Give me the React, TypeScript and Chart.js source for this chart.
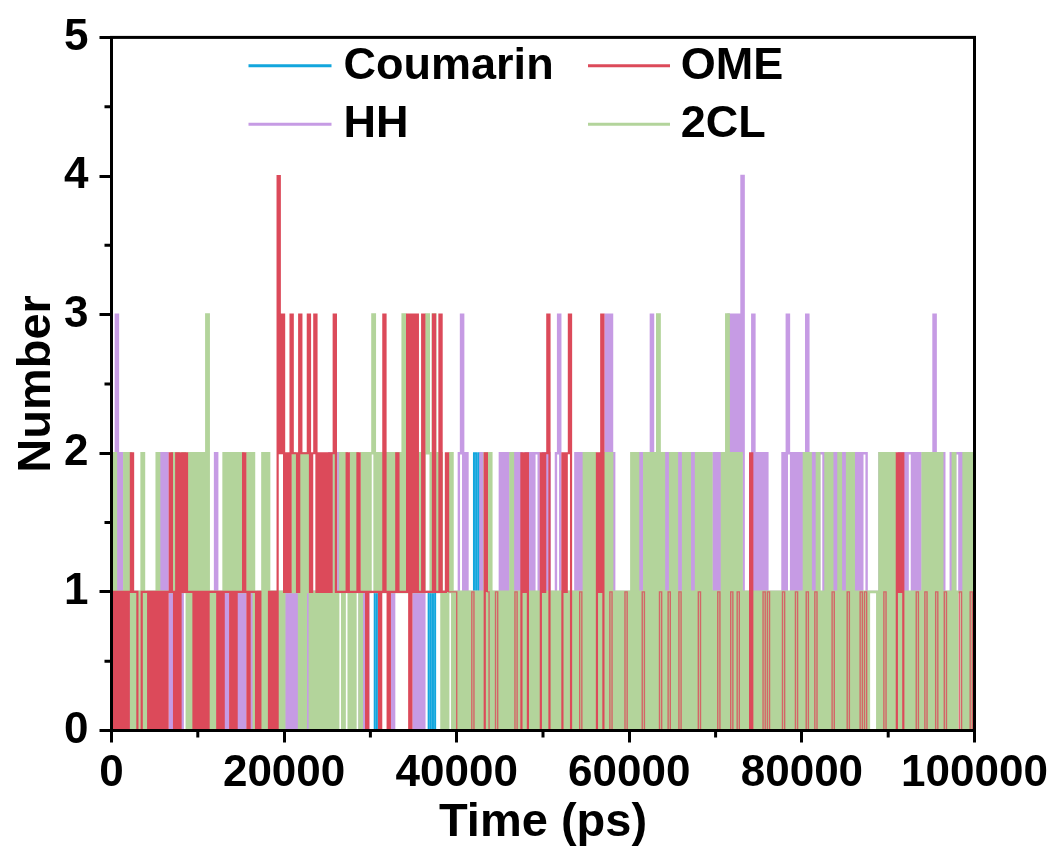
import React, { useEffect, useRef } from "react";
import { Chart, registerables } from "chart.js";

Chart.register(...registerables);

// sampling step of the trajectory (ps)
const timeStep = 250;

const seriesNames = ["Coumarin", "OME", "HH", "2CL"];
const seriesColors = ["#12a6dd", "#dc4a5a", "#c69be4", "#b3d49b"];
const seriesWidths = [2, 2.2, 2.4, 2.7];
// after this time the OME traces between 0 and 1 are thin flickers
const omeThinAfter = 38500;

const xTickValues = [0, 20000, 40000, 60000, 80000, 100000];
const yTickValues = [0, 1, 2, 3, 4, 5];

// Coumarin (blue)
const coumarin = [
  0,0,0,0,0,0,0,0,0,0, 0,0,0,0,0,0,0,0,0,0,
  0,0,0,0,0,0,0,0,0,0, 0,0,0,0,0,0,0,0,0,0,
  0,0,0,0,0,0,0,0,0,0, 0,0,0,0,0,0,0,0,0,0,
  0,0,0,0,0,0,0,0,0,0, 0,0,0,0,0,0,0,0,0,0,
  0,0,0,0,0,0,0,0,0,0, 0,0,0,0,0,0,0,1,0,0,
  0,0,0,0,0,0,0,0,0,0, 0,0,0,0,0,0,0,0,0,0,
  0,0,1,0,0,0,0,0,0,0, 0,0,0,0,0,0,0,0,0,0,
  0,0,1,0,0,0,0,1,0,1, 0,0,0,0,0,0,0,0,0,0,
  0,0,0,0,0,0,0,0,2,1, 2,0,0,0,0,0,0,0,0,0,
  0,0,0,0,0,0,0,0,0,0, 0,0,0,0,0,0,0,0,0,0,
  1,0,0,0,0,0,0,0,0,0, 0,0,0,0,0,0,0,0,0,0,
  0,0,0,0,0,0,0,0,0,0, 0,0,0,0,0,0,0,0,0,0,
  0,0,0,0,0,0,0,0,0,0, 0,0,0,0,0,0,0,0,0,0,
  0,0,0,0,0,0,0,0,0,0, 0,0,0,0,0,0,0,0,0,0,
  0,0,0,0,0,0,0,0,0,0, 0,0,0,0,0,0,0,0,0,0,
  0,0,0,0,0,0,0,0,0,0, 0,0,0,0,0,0,0,0,0,0,
  0,0,0,0,0,0,0,0,0,0, 0,0,0,0,0,0,0,0,0,0,
  0,0,0,0,0,0,0,0,0,0, 0,0,0,0,0,0,0,0,0,0,
  0,0,0,0,0,0,0,0,0,0, 0,0,0,0,0,0,0,0,0,0,
  2,0,0,0,0,0,0,0,0,0, 0,0,0,0,0,0,0,0,0,0,
  0,
];

// OME (red)
const ome = [
  1,0,1,0,1,0,1,0,1,2, 1,1,0,0,1,1,1,0,1,0,
  1,0,1,0,1,0,1,2,1,0, 2,0,2,1,2,1,1,1,0,1,
  0,1,0,1,0,1,1,1,1,0, 1,0,1,1,1,0,1,0,1,1,
  1,2,1,0,1,1,1,0,1,0, 0,0,0,1,0,1,0,4,2,3,
  1,2,1,3,2,2,1,3,2,2, 2,3,1,2,3,1,2,1,2,1,
  2,1,2,3,1,1,1,1,1,2, 1,1,1,1,2,1,1,1,0,1,
  1,1,1,1,0,1,3,1,0,1, 1,1,2,1,1,1,1,3,0,3,
  1,3,1,1,3,1,1,1,1,3, 1,1,3,1,1,2,1,1,1,1,
  0,0,0,0,0,0,0,1,0,0, 0,0,0,2,1,0,0,0,1,0,
  0,0,0,0,0,0,0,1,0,0, 2,1,2,0,0,0,0,0,0,2,
  1,2,3,0,0,0,0,0,0,2, 1,2,3,0,0,0,0,1,0,0,
  0,0,0,0,0,2,1,3,0,0, 0,1,0,0,0,0,0,0,1,0,
  0,0,0,0,0,0,1,0,0,0, 0,0,0,0,1,0,0,0,1,0,
  0,0,0,1,0,0,0,0,0,0, 0,0,1,0,0,0,0,0,0,0,
  0,1,0,0,0,0,0,1,0,0, 1,0,0,0,0,0,2,0,0,0,
  0,0,1,0,1,0,0,0,0,0, 0,1,0,0,0,0,0,1,0,0,
  0,0,1,0,0,0,1,0,0,0, 0,0,0,0,1,0,0,0,0,0,
  0,1,0,0,0,0,0,1,0,1, 0,0,0,0,0,0,0,0,1,0,
  0,0,0,0,2,1,2,0,0,0, 0,0,0,1,0,0,0,1,0,0,
  0,0,1,0,0,0,1,0,0,0, 0,0,0,1,0,0,0,0,1,0,
  0,
];

// HH (purple)
const hh = [
  1,2,3,1,2,1,1,0,1,0, 0,1,1,0,1,0,0,1,0,1,
  0,1,0,2,1,2,1,0,1,0, 0,1,0,1,1,0,1,0,1,0,
  0,1,0,0,1,0,1,1,2,1, 0,1,0,1,0,0,1,0,1,0,
  1,0,1,1,0,1,0,0,1,0, 1,0,1,1,0,1,0,0,1,0,
  0,1,0,1,0,1,0,1,0,1, 0,1,1,0,1,0,1,1,0,1,
  1,2,1,2,1,2,1,1,2,1, 1,1,2,1,1,0,1,0,1,0,
  0,0,0,0,0,0,0,0,0,1, 0,1,1,1,1,1,1,1,1,1,
  0,1,0,1,0,1,1,1,1,1, 1,1,1,1,1,1,1,1,1,1,
  1,2,3,1,2,1,1,1,1,1, 1,2,1,1,1,1,1,1,1,1,
  2,1,2,1,2,2,1,2,1,2, 1,1,2,1,2,1,2,2,1,1,
  2,1,2,1,1,1,2,3,1,1, 1,1,1,1,1,2,1,2,1,2,
  1,1,1,1,1,1,1,1,1,3, 1,3,2,1,1,1,1,1,1,1,
  1,1,1,1,1,2,1,1,2,1, 3,2,1,1,1,1,2,1,2,1,
  1,1,2,1,2,1,2,2,1,2, 1,2,1,1,1,1,1,1,1,2,
  1,2,1,2,1,2,3,2,3,1, 3,2,4,1,1,1,1,3,1,2,
  1,2,1,2,1,1,1,1,1,1, 1,2,1,3,2,1,2,1,2,1,
  2,1,3,1,2,1,2,1,2,2, 1,2,1,1,2,1,2,1,2,1,
  2,1,2,1,2,1,2,1,2,2, 1,1,1,1,1,1,2,1,2,1,
  2,1,2,1,1,2,1,2,1,2, 2,1,2,1,2,1,1,1,1,1,
  1,3,1,2,1,2,1,1,1,2, 1,2,2,1,2,1,1,2,1,2,
  1,
];

// 2CL (green)
const cl2 = [
  1,2,1,1,1,1,2,1,2,0, 1,0,1,0,2,0,1,1,1,1,
  1,2,1,1,1,1,1,1,2,1, 2,1,1,2,1,0,2,0,2,1,
  2,1,2,1,3,0,1,0,1,1, 1,1,2,1,2,1,2,1,2,1,
  2,1,1,2,1,2,0,1,1,0, 2,0,2,1,1,1,1,0,1,0,
  1,1,1,1,2,1,1,0,2,0, 2,1,0,1,0,1,0,1,0,1,
  0,1,0,2,0,1,2,0,2,1, 0,2,0,2,1,0,2,1,2,1,
  2,3,1,2,1,2,1,2,1,2, 1,2,1,2,1,3,1,2,1,2,
  1,2,1,2,1,2,3,2,1,3, 2,1,2,0,1,0,1,2,0,1,
  0,1,0,1,0,1,0,1,0,1, 0,1,0,2,0,2,0,1,0,1,
  0,1,0,1,0,2,0,1,0,1, 0,1,0,1,0,1,0,1,0,1,
  0,1,0,1,0,1,0,1,0,1, 0,1,0,1,0,1,0,1,0,2,
  0,2,0,2,0,1,0,2,0,2, 0,2,0,1,0,1,0,1,0,1,
  0,2,0,2,0,1,0,2,0,2, 0,2,0,3,0,2,0,1,0,2,
  0,2,0,1,0,2,0,2,0,1, 0,2,0,2,0,2,0,2,0,1,
  0,1,0,2,0,3,0,2,0,2, 0,2,0,1,0,1,0,1,0,1,
  0,1,0,1,0,1,0,1,0,1, 0,1,0,1,0,1,0,1,0,1,
  0,2,0,2,0,1,0,2,0,1, 0,2,0,2,0,1,0,2,0,1,
  0,2,0,2,0,1,0,1,0,1, 0,1,1,1,1,0,2,0,2,0,
  2,0,2,0,1,0,1,0,1,0, 1,0,1,0,1,0,2,0,2,0,
  2,0,2,0,2,0,1,0,1,0, 2,0,1,1,0,2,0,2,0,2,
  0,
];

const FONT = "'Liberation Sans', Arial, Helvetica, sans-serif";

const timeAxis = coumarin.map((_, i) => i * timeStep);

function toPoints(values: number[]) {
  return values.map((v, i) => ({ x: timeAxis[i], y: v }));
}

function isThinOmeSegment(ctx: any) {
  const p0 = ctx.p0.parsed;
  const p1 = ctx.p1.parsed;
  return p1.x > omeThinAfter && Math.max(p0.y, p1.y) <= 1;
}

const framePlugin = {
  id: "framePlugin",
  afterDatasetsDraw(chart: any) {
    const { ctx, chartArea } = chart;
    const { left, right, top, bottom } = chartArea;
    const xs = chart.scales.x;
    const ys = chart.scales.y;
    ctx.save();
    ctx.strokeStyle = "#000";
    ctx.lineWidth = 3;
    ctx.strokeRect(left, top, right - left, bottom - top);
    ctx.beginPath();
    for (let i = 0; i < xTickValues.length - 1; i++) {
      const mid = (xTickValues[i] + xTickValues[i + 1]) / 2;
      const px = xs.getPixelForValue(mid);
      ctx.moveTo(px, bottom);
      ctx.lineTo(px, bottom + 7);
    }
    for (let i = 0; i < yTickValues.length - 1; i++) {
      const mid = (yTickValues[i] + yTickValues[i + 1]) / 2;
      const py = ys.getPixelForValue(mid);
      ctx.moveTo(left, py);
      ctx.lineTo(left - 7, py);
    }
    ctx.stroke();
    ctx.restore();
  },
  afterDraw(chart: any) {
    const { ctx } = chart;
    ctx.save();
    const rows = [65.7, 124.3];
    const cols = [
      { x0: 248.5, x1: 331.5, tx: 343.6 },
      { x0: 588, x1: 670, tx: 680.7 },
    ];
    ctx.font = `bold 45px ${FONT}`;
    ctx.textBaseline = "alphabetic";
    ctx.textAlign = "left";
    seriesNames.forEach((name, idx) => {
      const r = Math.floor(idx / 2);
      const c = idx % 2;
      const y = rows[r];
      const col = cols[c];
      ctx.strokeStyle = seriesColors[idx];
      ctx.lineWidth = 3;
      ctx.beginPath();
      ctx.moveTo(col.x0, y);
      ctx.lineTo(col.x1, y);
      ctx.stroke();
      ctx.fillStyle = "#000";
      ctx.fillText(name, col.tx, y + 12.8);
    });
    ctx.restore();
  },
};

export default function App() {
  const canvasRef = useRef<HTMLCanvasElement | null>(null);

  useEffect(() => {
    const canvas = canvasRef.current;
    if (!canvas) return;
    const seriesValues = [coumarin, ome, hh, cl2];
    const drawOrder = [3, 0, 2, 1];
    const chart = new Chart(canvas, {
      type: "line",
      data: {
        datasets: seriesNames.map((name, i) => {
          const ds: any = {
            label: name,
            data: toPoints(seriesValues[i]),
            borderColor: seriesColors[i],
            backgroundColor: seriesColors[i],
            borderWidth: seriesWidths[i],
            pointRadius: 0,
            pointHoverRadius: 0,
            stepped: true,
            fill: false,
            order: drawOrder[i],
          };
          if (name === "OME") {
            ds.segment = {
              borderWidth: (c: any) => (isThinOmeSegment(c) ? 1.4 : undefined),
              borderColor: (c: any) => (isThinOmeSegment(c) ? "rgba(220,74,90,0.8)" : undefined),
            };
          }
          return ds;
        }),
      },
      options: {
        responsive: false,
        animation: false,
        events: [],
        layout: { padding: { left: 0, top: 34, right: 80.5, bottom: 0 } },
        plugins: {
          legend: { display: false },
          tooltip: { enabled: false },
          title: { display: false },
        },
        scales: {
          x: {
            type: "linear",
            min: 0,
            max: 100000,
            afterBuildTicks: (s: any) => {
              s.ticks = xTickValues.map((v) => ({ value: v }));
            },
            afterFit: (s: any) => {
              s.height = 118.5;
            },
            ticks: {
              autoSkip: false,
              maxRotation: 0,
              padding: 5,
              color: "#000",
              font: { family: FONT, size: 44, weight: "bold" },
              callback: (v: any) => String(v),
            },
            grid: {
              display: true,
              drawOnChartArea: false,
              drawTicks: true,
              tickLength: 12,
              tickWidth: 3,
              lineWidth: 3,
              color: "#000",
              tickColor: "#000",
            },
            border: { display: false },
            title: {
              display: true,
              text: "Time (ps)",
              color: "#000",
              font: { family: FONT, size: 47, weight: "bold", lineHeight: 1.1 },
              padding: { top: 0, bottom: 0 },
            },
          },
          y: {
            type: "linear",
            min: 0,
            max: 5,
            afterBuildTicks: (s: any) => {
              s.ticks = yTickValues.map((v) => ({ value: v }));
            },
            afterFit: (s: any) => {
              s.width = 111.5;
            },
            ticks: {
              autoSkip: false,
              padding: 11,
              color: "#000",
              font: { family: FONT, size: 44, weight: "bold" },
              callback: (v: any) => String(v),
            },
            grid: {
              display: true,
              drawOnChartArea: false,
              drawTicks: true,
              tickLength: 12,
              tickWidth: 3,
              lineWidth: 3,
              color: "#000",
              tickColor: "#000",
            },
            border: { display: false },
            title: {
              display: true,
              text: "Number",
              color: "#000",
              font: { family: FONT, size: 47, weight: "bold", lineHeight: 1.2 },
              padding: { top: 9, bottom: 0 },
            },
          },
        },
      },
      plugins: [framePlugin],
    });
    return () => chart.destroy();
  }, []);

  return (
    <div style={{ position: "fixed", left: 0, top: 0, width: 1055, height: 849, background: "#fff" }}>
      <canvas ref={canvasRef} width={1055} height={849} style={{ display: "block" }} />
    </div>
  );
}
